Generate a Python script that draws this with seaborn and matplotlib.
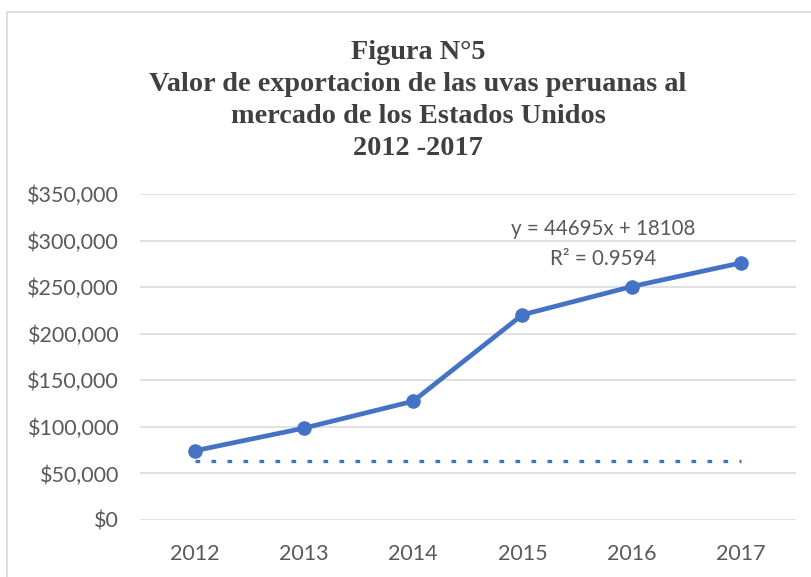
import pandas as pd
import matplotlib.pyplot as plt
import seaborn as sns
from matplotlib.patches import Rectangle
from matplotlib.ticker import FuncFormatter

years = ["2012", "2013", "2014", "2015", "2016", "2017"]
valores = [74300, 98600, 127500, 220300, 250600, 276000]
linea_punteada = [63600, 63600, 63600, 63600, 63600, 63600]
y_ticks = [0, 50000, 100000, 150000, 200000, 250000, 300000, 350000]

titulo = "Figura N°5\nValor de exportacion de las uvas peruanas al\nmercado de los Estados Unidos\n2012 -2017"
ecuacion = "y = 44695x + 18108"
r2 = "R² = 0.9594"

azul = "#4472C4"
gris = "#595959"

sns.set_style("white")
plt.rcParams['font.family'] = ['Lato', 'DejaVu Sans']

df = pd.DataFrame({"Año": years, "Valor": valores, "Tendencia": linea_punteada})

fig = plt.figure(figsize=(8.12, 5.77), dpi=100)
ax = fig.add_axes([0.1724, 0.0988, 0.8073, 0.565])

sns.lineplot(x="Año", y="Tendencia", data=df, ax=ax, color=azul,
             linewidth=2.4, linestyle=(0, (1.4, 3.4)), dash_capstyle="butt")
sns.lineplot(x="Año", y="Valor", data=df, ax=ax, color=azul, linewidth=3.4,
             marker="o", markersize=10.5, markeredgewidth=0)

ax.set_xlim(-0.5, len(years) - 0.5)
ax.set_ylim(0, 350000)
ax.set_yticks(y_ticks)
ax.yaxis.set_major_formatter(FuncFormatter(lambda v, p: f"${v:,.0f}"))
ax.grid(axis="y", color="#D9D9D9", linewidth=1.1)
ax.grid(axis="x", visible=False)
for s in ax.spines.values():
    s.set_visible(False)
ax.tick_params(axis="y", length=0, pad=15, labelsize=15.5, labelcolor=gris)
ax.tick_params(axis="x", length=0, pad=17, labelsize=15.5, labelcolor=gris)
ax.set_xlabel("")
ax.set_ylabel("")

ax.text(0.706, 0.893, ecuacion, transform=ax.transAxes, ha="center", va="center",
        fontsize=14.8, color=gris)
ax.text(0.706, 0.80, r2, transform=ax.transAxes, ha="center", va="center",
        fontsize=14.8, color=gris)

fig.text(0.515, 0.826, titulo, ha="center", va="center", fontsize=20.3,
         fontweight="bold", family="Liberation Serif", color="#404040",
         linespacing=1.36)

fig.patches.append(Rectangle((7 / 812, -0.1), 1.2, 1.1 - 12 / 577,
                             transform=fig.transFigure, fill=False,
                             edgecolor="#D9D9D9", linewidth=1.2))

plt.savefig("out.png", format="png", dpi=100)
